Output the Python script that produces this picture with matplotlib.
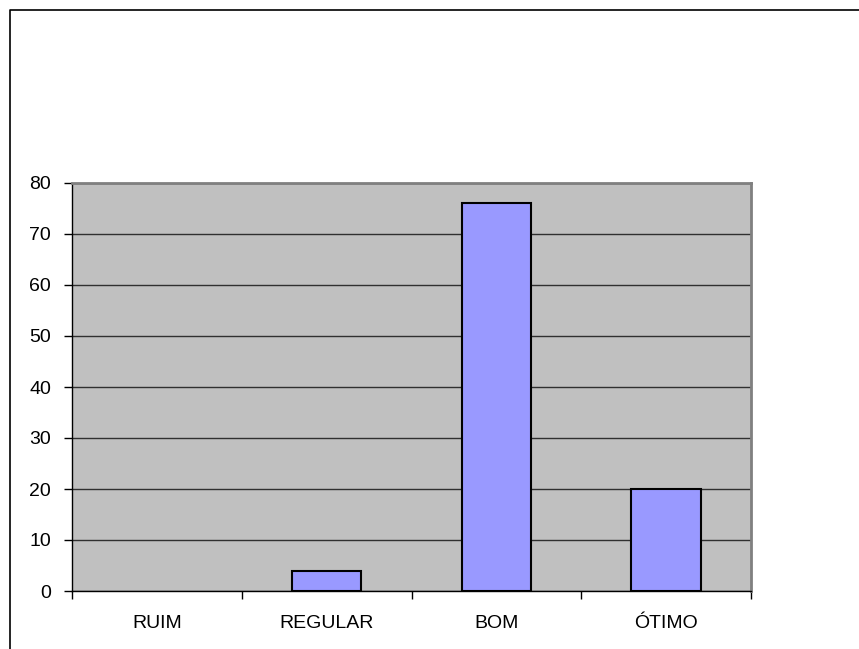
import matplotlib.pyplot as plt
from matplotlib.lines import Line2D
import numpy as np

categories = ["RUIM", "REGULAR", "BOM", "ÓTIMO"]
values = [0, 4, 76, 20]
y_ticks = [0, 10, 20, 30, 40, 50, 60, 70, 80]

plt.rcParams["font.family"] = ["Liberation Sans", "DejaVu Sans"]

fig = plt.figure(figsize=(8.59, 6.49), dpi=100)
ax = fig.add_axes([72 / 859, 58 / 649, 679 / 859, 408 / 649])
ax.set_facecolor("#C0C0C0")

x = np.arange(len(categories))
# a zero value draws no outline in the original
edge_w = [1.5 if v > 0 else 0 for v in values]
ax.bar(x, values, width=0.41, color="#9999FF", edgecolor="black", linewidth=edge_w, zorder=3)

ax.set_xlim(-0.5, len(categories) - 0.5)
ax.set_ylim(0, 80)
ax.set_yticks(y_ticks)
ax.yaxis.grid(True, color="#303030", linewidth=1, zorder=1)
ax.set_axisbelow(True)

# category labels centred, ticks on the boundaries
ax.set_xticks(x)
ax.set_xticklabels(categories, fontsize=14)
ax.set_xticks(np.arange(-0.5, len(categories)), minor=True)
ax.tick_params(axis="x", which="major", length=0, pad=17)
ax.tick_params(axis="x", which="minor", length=6, width=1, color="black")
ax.tick_params(axis="y", length=6, width=1, labelsize=14, pad=9)

for side in ["top", "right"]:
    ax.spines[side].set_color("#808080")
    ax.spines[side].set_linewidth(2)
for side in ["left", "bottom"]:
    ax.spines[side].set_color("black")
    ax.spines[side].set_linewidth(1)

# outer frame (left and top)
fx = 10 / 859
fy = 1 - 9.5 / 649
fig.add_artist(Line2D([fx, fx, 1], [0, fy, fy], transform=fig.transFigure,
                      color="black", linewidth=1.2))

fig.savefig("out.png", dpi=100)
